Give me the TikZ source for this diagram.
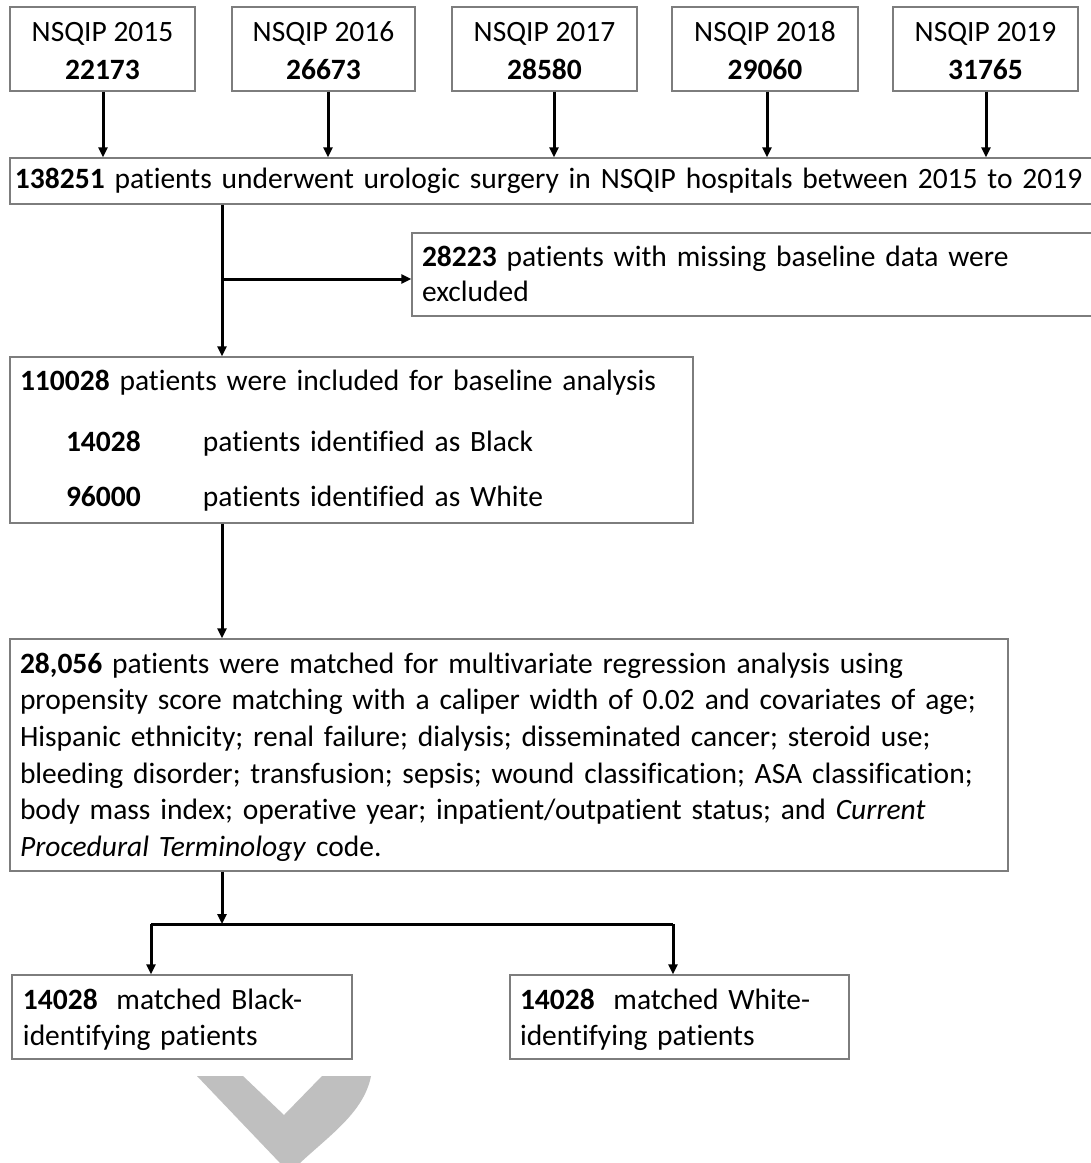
\documentclass[tikz,border=0pt]{standalone}
\usepackage{fontspec}
\setmainfont{Carlito}[Ligatures={NoCommon,NoContextual},Contextuals=NoAlternate]
\usetikzlibrary{arrows.meta,calc}
\definecolor{boxgray}{RGB}{125,125,125}
\definecolor{chev}{RGB}{191,191,191}
\newcommand{\tstr}[1]{\rule{0pt}{#1}}
\newcommand{\bstr}[1]{\rule[-#1]{0pt}{#1}}
\begin{document}
\begin{tikzpicture}[x=1pt,y=-1pt,
  box/.style={draw=boxgray, line width=1.2pt, inner ysep=0pt, inner xsep=10pt,
    font=\fontsize{29.5}{36.7}\selectfont, align=left},
  yearbox/.style={box, align=center, font=\fontsize{29.5}{38}\selectfont,
    minimum height=84pt},
  arr/.style={line width=3pt, -{Triangle[length=10pt,width=9pt]}},
  ln/.style={line width=3pt}]
\useasboundingbox (0,0) rectangle (1091,1163);
\fill[white] (0,0) rectangle (1091,1163);

% year boxes
\node[yearbox, minimum width=185pt] (y15) at (102.5,49) {\tstr{33.4pt}NSQIP 2015\\\textbf{22173}\bstr{11.4pt}};
\node[yearbox, minimum width=183pt] (y16) at (323.5,49) {\tstr{33.4pt}NSQIP 2016\\\textbf{26673}\bstr{11.4pt}};
\node[yearbox, minimum width=185pt] (y17) at (544.5,49) {\tstr{33.4pt}NSQIP 2017\\\textbf{28580}\bstr{11.4pt}};
\node[yearbox, minimum width=186pt] (y18) at (765,49) {\tstr{33.4pt}NSQIP 2018\\\textbf{29060}\bstr{11.4pt}};
\node[yearbox, minimum width=185pt] (y19) at (985.5,49) {\tstr{33.4pt}NSQIP 2019\\\textbf{31765}\bstr{11.4pt}};

% main box
\node[box, inner xsep=5pt, minimum width=1085pt, text width=1075pt, minimum height=46pt] (main) at (552.5,181)
  {\tstr{25.7pt}\textbf{138251} patients underwent urologic surgery in NSQIP hospitals between 2015 to 2019\bstr{11pt}};

% excluded
\node[box, minimum width=683pt, text width=663pt, minimum height=83pt, font=\fontsize{29.5}{35}\selectfont] (excl) at (753.5,274.5)
  {\tstr{29.7pt}\textbf{28223} patients with missing baseline data were\\excluded\bstr{11pt}};

% baseline
\node[box, minimum width=683pt, text width=663pt, minimum height=166pt] (b110) at (351.5,440)
  {\tstr{27.7pt}\textbf{110028} patients were included for baseline analysis\\[24.9pt]
   \hspace*{46pt}\makebox[137pt][l]{\textbf{14028}}patients identified as Black\\[18.3pt]
   \hspace*{46pt}\makebox[137pt][l]{\textbf{96000}}patients identified as White\bstr{11pt}};

% matched
\node[box, minimum width=998pt, text width=978pt, minimum height=232pt] (big) at (509,755)
  {\tstr{30.7pt}\textbf{28,056} patients were matched for multivariate regression analysis using\\
   propensity score matching with a caliper width of 0.02 and covariates of age;\\
   Hispanic ethnicity; renal failure; dialysis; disseminated cancer; steroid use;\\
   bleeding disorder; transfusion; sepsis; wound classification; ASA classification;\\
   body mass index; operative year; inpatient/outpatient status; and \textit{Current}\\
   \textit{Procedural Terminology} code.\bstr{11pt}};

% final boxes
\node[box, inner xsep=11pt, minimum width=340pt, text width=318pt, minimum height=84pt] (blk) at (182,1017)
  {\tstr{31.7pt}\textbf{14028}\hspace{0.3em} matched Black-\\identifying patients\bstr{11pt}};
\node[box, minimum width=339pt, text width=319pt, minimum height=84pt] (wht) at (679.5,1017)
  {\tstr{31.7pt}\textbf{14028}\hspace{0.3em} matched White-\\identifying patients\bstr{11pt}};

% connectors
\coordinate (br) at (222,279);
\coordinate (jn) at (222,924);
\coordinate (jl) at (151,924);
\coordinate (jr) at (673,924);

\draw[arr] (y15.south -| 103,0) -- (main.north -| 103,0);
\draw[arr] (y16.south -| 328,0) -- (main.north -| 328,0);
\draw[arr] (y17.south -| 554,0) -- (main.north -| 554,0);
\draw[arr] (y18.south -| 767,0) -- (main.north -| 767,0);
\draw[arr] (y19.south -| 986,0) -- (main.north -| 986,0);

\draw[arr] (main.south -| br) -- (b110.north -| br);
\draw[arr] (br) -- (br -| excl.west);

\draw[arr] (b110.south -| br) -- (big.north -| br);
\draw[arr] (big.south -| jn) -- (jn);
\draw[ln] (jl) -- (jr);
\draw[arr] (jl) -- (blk.north -| jl);
\draw[arr] (jr) -- (wht.north -| jr);

% grey chevron
\fill[chev] (197,1076) -- (243,1076) -- (284,1115) -- (322,1076) -- (371,1076)
  .. controls (364,1112) and (330,1135) .. (300,1163) -- (280,1163) -- cycle;
\end{tikzpicture}
\end{document}
